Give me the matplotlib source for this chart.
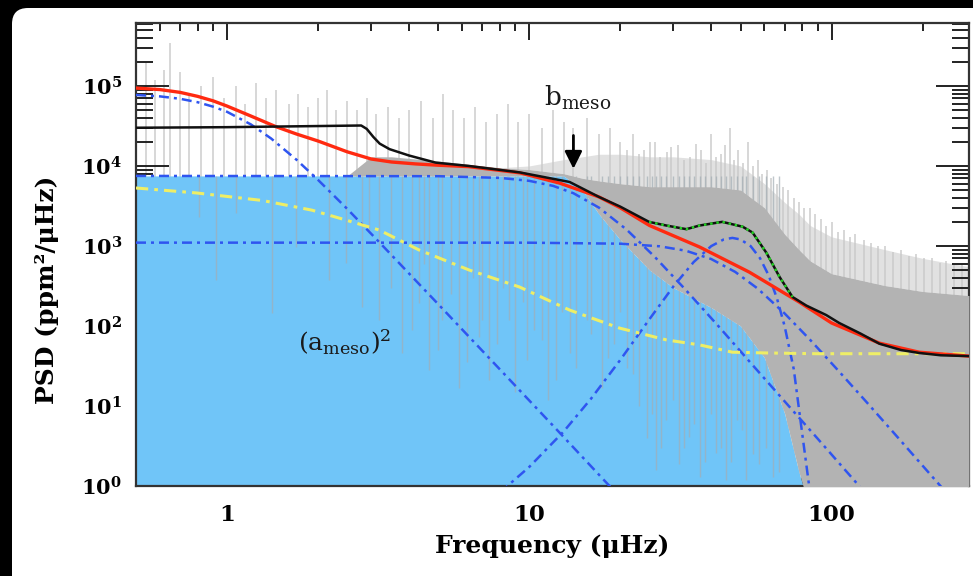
import numpy as np
import matplotlib.pyplot as plt
from matplotlib.patches import FancyBboxPatch
from matplotlib.transforms import IdentityTransform
from matplotlib.ticker import LogLocator, FuncFormatter, NullFormatter

plt.rcParams['font.family'] = 'DejaVu Serif'
plt.rcParams['mathtext.fontset'] = 'dejavuserif'

# --- power spectrum: smoothed PSD (black) and the green-dotted oscillation bump
black_f = [0.5, 1.0, 2.0, 2.78, 2.9, 3.05, 3.2, 3.45, 4.0, 4.9, 6.3, 9.3, 13.6, 17, 20,
           24.9, 28.4, 33.1, 36.6, 43.5, 50.8, 54.8, 60.9, 67.3, 74.3, 82.5, 96,
           106, 125, 144, 170, 195, 230, 285]
black_p = [3.0e4, 3.05e4, 3.15e4, 3.2e4, 2.9e4, 2.3e4, 1.9e4, 1.62e4, 1.35e4, 1.1e4,
           1.0e4, 8.3e3, 6.3e3, 4.1e3, 3.1e3, 2.0e3, 1.8e3, 1.62e3, 1.8e3, 2.0e3,
           1.74e3, 1.47e3, 820, 410, 230, 180, 137, 109, 80, 60, 50, 46, 43, 42]
green_f = black_f[15:25]
green_p = black_p[15:25]

# --- total background fit (red)
red_f = [0.5, 0.6, 0.7, 0.8, 0.9, 1.0, 1.2, 1.45, 1.7, 2.0, 2.5, 3.0, 3.5, 4.2, 5.0,
         6.3, 9.3, 12.6, 17, 20, 25, 36.6, 53.5, 78, 100, 144, 195, 285]
red_p = [9.4e4, 9.0e4, 8.3e4, 7.4e4, 6.5e4, 5.6e4, 4.2e4, 3.1e4, 2.5e4, 2.05e4, 1.5e4,
         1.22e4, 1.12e4, 1.06e4, 1.02e4, 9.8e3, 8.2e3, 6.1e3, 4.1e3, 3.0e3, 1.8e3,
         970, 470, 200, 109, 61, 47, 42]

# --- fit components (blue dash-dot)
low_f = [0.5, 0.6, 0.7, 0.8, 0.9, 1.0, 1.2, 1.4, 1.7, 2.0, 2.5, 3.2, 5, 8, 12, 18, 25]
low_p = [7.7e4, 7.4e4, 6.9e4, 6.25e4, 5.5e4, 4.75e4, 3.3e4, 2.2e4, 1.19e4, 6.7e3,
         2.9e3, 1.1e3, 187, 28.6, 5.65, 1.1, 0.3]

meso_f = [0.5, 5, 8, 10, 12, 14, 17, 21, 26, 33, 42, 55, 70, 90, 120, 150]
meso_p = [7500, 7443, 7088, 6511, 5628, 4559, 3014, 1599, 732, 280, 102, 32, 11.4,
          3.9, 1.13, 0.43]

gran_f = [0.5, 10, 20, 27, 33, 40, 48, 57, 70, 85, 105, 130, 160, 200, 250, 300]
gran_p = [1100, 1098, 1067, 990, 871, 686, 474, 293, 143, 67, 28, 11.4, 4.7, 1.8,
          0.69, 0.3]

osc_f = [8, 10, 13, 16, 20, 25, 30, 35, 40, 44, 47, 50, 54, 58, 62, 66, 70, 75, 80, 85, 90]
osc_p = [0.83, 1.73, 4.8, 12.3, 37.6, 122, 313, 630, 995, 1206, 1260, 1206, 995, 703,
         426, 221, 98.6, 28.9, 4.5, 0.8, 0.17]

# --- yellow dash-dot component
yel_f = [0.5, 0.79, 1.31, 1.91, 2.48, 3.19, 4.32, 6.33, 9.28, 13.6, 19.9, 28.4, 36.6,
         47, 60.7, 89, 285]
yel_p = [5.3e3, 4.6e3, 3.7e3, 2.8e3, 2.1e3, 1.58e3, 890, 500, 307, 158, 94, 67, 58,
         47, 46, 45, 45]

meso_level = 7.5e3   # (a_meso)^2
b_meso = 14.0

# --- raw spectrum texture: dense band, haze and single spikes
band_f = [0.5, 2.5, 3.0, 3.5, 5, 8, 10, 13, 15, 17, 20, 25, 30, 40, 50, 60, 70, 78, 85,
          100, 150, 200, 285]
band_lo = [7.5e3, 7.5e3, 7.5e3, 7.5e3, 7.5e3, 7.5e3, 7.5e3, 7.5e3, 5e3, 2.5e3, 1.2e3,
           500, 300, 170, 100, 40, 8, 1.5, 0.5, 0.5, 0.5, 0.5, 0.5]
band_hi = [7.5e3, 7.5e3, 1.3e4, 1.3e4, 1.15e4, 9.5e3, 9e3, 8e3, 7e3, 6.5e3, 6e3, 5.5e3,
           5.5e3, 5.5e3, 5e3, 3e3, 1.4e3, 900, 650, 450, 320, 270, 240]
haze_hi = [7.5e3, 7.5e3, 1.3e4, 1.3e4, 1.15e4, 9.5e3, 1.0e4, 1.2e4, 1.3e4, 1.4e4,
           1.4e4, 1.3e4, 1.3e4, 1.2e4, 1e4, 6e3, 3.5e3, 2.5e3, 1.8e3, 1.3e3, 900, 700,
           550]

spike_f = [0.54, 0.58, 0.62, 0.65, 0.70, 0.75, 0.82, 0.9, 0.98, 1.07, 1.15, 1.25, 1.35,
           1.45, 1.6, 1.72, 1.85, 2.0, 2.15, 2.3, 2.5, 2.7, 2.9, 3.1, 3.4, 3.7, 4.0,
           4.4, 4.8, 5.2, 5.6, 6.1, 6.6, 7.2, 7.8, 8.5, 9.2, 10, 11, 12, 13, 14, 15.5,
           17, 18.5, 20, 21, 22, 23, 24, 25, 26, 27, 28.5, 29.5, 31, 32.5, 34, 35.5,
           37, 38.5, 40, 41.5, 43, 44.5, 46, 47.5, 49, 51, 53, 55, 57, 59, 61, 63, 66,
           69, 72, 75, 78, 81, 85, 88, 92, 96, 100, 105, 110, 115, 120, 128, 135, 142,
           150, 160, 170, 180, 190, 202, 215, 228, 240, 255, 270]
spike_p = [2.0e5, 1.2e5, 1.6e5, 3.4e5, 1.5e5, 8e4, 1.0e5, 1.3e5, 7e4, 1.0e5, 6e4,
           1.1e5, 7e4, 9e4, 6e4, 8e4, 5.5e4, 7e4, 9e4, 5e4, 6.5e4, 5e4, 7e4, 4.5e4,
           5.5e4, 4e4, 5e4, 6.5e4, 4e4, 8e4, 5e4, 4e4, 5.5e4, 3.5e4, 4.5e4, 6e4, 3.5e4,
           4.5e4, 3e4, 5e4, 3.5e4, 3e4, 4e4, 2.5e4, 3e4, 2e4, 1.6e4, 2.5e4, 1.4e4,
           1.6e4, 2.0e4, 2e4, 1.3e4, 1.5e4, 1.7e4, 1.8e4, 1.2e4, 1.3e4, 1.9e4, 1.6e4,
           1.1e4, 2.5e4, 1.3e4, 1.4e4, 1.8e4, 3e4, 1.2e4, 1.6e4, 1.1e4, 2e4, 1.0e4,
           1.2e4, 8e3, 9e3, 7e3, 6e3, 5.5e3, 5e3, 4e3, 3.5e3, 3e3, 3e3, 2.5e3, 2.2e3,
           1.8e3, 2e3, 1.5e3, 1.6e3, 1.3e3, 1.4e3, 1.2e3, 1.1e3, 1.0e3, 1.0e3, 850,
           900, 750, 800, 700, 700, 620, 650, 600, 600]

# downward excursions of the spectrum seen through the blue box
dip_f = [0.81, 0.92, 1.07, 1.41, 1.69, 2.18, 2.48, 2.8, 2.95, 3.19, 3.5, 3.8, 4.1,
         4.32, 4.5, 4.67, 5.0, 5.16, 5.5, 5.86, 6.2, 6.5, 6.83, 7.0, 7.37, 7.8, 8.2,
         8.6, 9.0, 9.5, 9.8, 10.4, 11.0, 11.5, 12.3, 12.8, 13.6, 14.3, 15.5, 16,
         17.4, 18.2, 19, 20, 21, 22, 23, 24.5, 25.5, 26.3, 27.3, 28.4, 30, 31.3, 32.5,
         33.8, 35, 36.6, 38, 40, 41.5, 43, 44.9, 46.5, 48.5, 50.5, 52.3, 55, 57.6,
         60.5, 63.8, 67]
dip_p = [2.3e3, 377, 2.6e3, 145, 970, 377, 610, 173, 1.45e3, 119, 300, 46, 90, 194,
         600, 28, 50, 119, 250, 17, 35, 400, 73, 120, 21, 60, 300, 119, 15, 200, 37.6,
         90, 67, 12, 21, 150, 46, 30, 119, 80, 17, 40, 60, 150, 30, 25, 10, 4, 8, 1.58,
         3, 6.7, 12, 1.9, 3, 4.1, 6, 1.3, 2, 8, 2.6, 3, 1.2, 2, 6.7, 5, 1.2, 2.5, 1.9,
         3, 1.3, 1.5]

fig = plt.figure(figsize=(9.73, 5.76), dpi=100, facecolor='black')
fig.add_artist(FancyBboxPatch((12, -40), 1020, 608,
                              boxstyle='round,pad=0,rounding_size=16',
                              transform=IdentityTransform(), fc='white', ec='none',
                              zorder=0))

ax = fig.add_axes([136 / 973, 90 / 576, 833 / 973, 463.5 / 576])
ax.set_xscale('log')
ax.set_yscale('log')
ax.set_xlim(0.5, 285)
ax.set_ylim(1, 6.2e5)

# spectrum haze and spikes, then the blue (a_meso)^2 box, then the dense part
ax.fill_between(band_f, band_hi, haze_hi, color='#dadada', lw=0, alpha=0.8, zorder=1.2)
ax.vlines(spike_f, 0.5, spike_p, color='#c8c8c8', lw=1.1, alpha=0.9, zorder=1.5)
ax.fill_between(band_f, 0.1, band_lo, color='#70c5f8', lw=0, zorder=2)
ax.vlines(dip_f, dip_p, meso_level, color='#a3aeb5', lw=1.0, alpha=0.7, zorder=2.1)
ax.fill_between(band_f, band_lo, band_hi, color='#b3b3b3', lw=0, zorder=3)

dd = (4, 2, 1.2, 2)
ax.plot(low_f, low_p, color='#2f55f0', lw=1.8, dashes=dd, zorder=5)
ax.plot(meso_f, meso_p, color='#2f55f0', lw=1.8, dashes=dd, zorder=5)
ax.plot(gran_f, gran_p, color='#2f55f0', lw=1.8, dashes=dd, zorder=5)
ax.plot(osc_f, osc_p, color='#2f55f0', lw=1.8, dashes=dd, zorder=5)
ax.plot(yel_f, yel_p, color='#eeee66', lw=2.2, dashes=dd, zorder=5)

ax.plot(red_f, red_p, color='#ff2a10', lw=2.4, zorder=6)
ax.plot(black_f, black_p, color='#111111', lw=1.8, zorder=7)
ax.plot(green_f, green_p, color='#22d022', lw=1.8, dashes=(1, 1.5), zorder=8)

# b_meso marker
ax.annotate('', xy=(b_meso, 8.5e3), xytext=(b_meso, 2.6e4),
            arrowprops=dict(arrowstyle='-|>', color='black', lw=2,
                            mutation_scale=26), zorder=9)
ax.text(b_meso * 1.03, 7.0e4, r'$\mathregular{b_{meso}}$', fontsize=19,
        ha='center', va='center', color='#1a1a1a', zorder=9)
ax.text(2.45, 62, r'$\mathregular{(a_{meso})^2}$', fontsize=18,
        ha='center', va='center', color='#1a1a1a', zorder=9)

# axes styling: inward ticks on all four sides
ax.xaxis.set_major_locator(LogLocator(base=10, numticks=10))
ax.xaxis.set_minor_locator(LogLocator(base=10, subs=np.arange(2, 10) * 1.0, numticks=100))
ax.yaxis.set_major_locator(LogLocator(base=10, numticks=10))
ax.yaxis.set_minor_locator(LogLocator(base=10, subs=np.arange(2, 10) * 1.0, numticks=100))
ax.xaxis.set_major_formatter(FuncFormatter(lambda v, p: f'{v:g}'))
ax.yaxis.set_major_formatter(
    FuncFormatter(lambda v, p: r'$\mathbf{10^{%d}}$' % round(np.log10(v))))
ax.xaxis.set_minor_formatter(NullFormatter())
ax.yaxis.set_minor_formatter(NullFormatter())

ax.tick_params(which='both', direction='in', top=True, right=True, color='#222222',
               width=1.4)
ax.tick_params(axis='x', which='major', length=12, pad=13, labelsize=16.5)
ax.tick_params(axis='x', which='minor', length=6)
ax.tick_params(axis='y', which='major', length=24, pad=10, labelsize=15)
ax.tick_params(axis='y', which='minor', length=12)
for lab in ax.get_xticklabels():
    lab.set_fontweight('bold')
for s in ax.spines.values():
    s.set_linewidth(1.6)
    s.set_color('#333333')

ax.set_xlabel('Frequency (μHz)', fontsize=18, fontweight='bold')
ax.set_ylabel('PSD (ppm²/μHz)', fontsize=18, fontweight='bold')
ax.xaxis.set_label_coords(0.5, -0.104)
ax.yaxis.set_label_coords(-0.092, 0.423)

fig.savefig('out.png', dpi=100, facecolor=fig.get_facecolor())
